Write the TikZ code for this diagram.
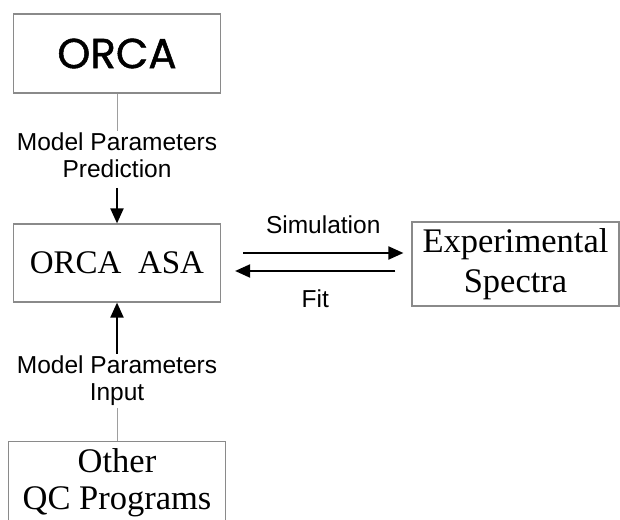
\documentclass[tikz,border=0pt]{standalone}
\usepackage{fontspec}
\setmainfont{Liberation Serif}
\setsansfont{Liberation Sans}
\newfontfamily\orcafont[FakeBold=1.2]{Poppins}
\usetikzlibrary{
  arrows.meta,
  positioning
}
\definecolor{asFrame}{HTML}{8A8A8A}
\definecolor{asLink}{HTML}{9E9E9E}
\tikzset{
  asnode/.style={
    draw=asFrame, line width=1.2pt, minimum width=207pt, align=center,
    inner sep=2pt, font=\fontsize{33}{40}\selectfont
  },
  orcabox/.style={asnode, minimum height=79pt, font=\orcafont\fontsize{42}{48}\selectfont},
  asabox/.style={asnode, minimum height=78pt},
  specbox/.style={asnode, minimum height=84pt, font=\fontsize{34.5}{40}\selectfont},
  qcbox/.style={asnode, minimum width=217pt, minimum height=83pt, font=\fontsize{34.5}{37}\selectfont},
  param/.style={font=\sffamily\fontsize{24.5}{27}\selectfont, align=center, inner sep=2pt},
  tag/.style={font=\sffamily\fontsize{24.5}{27}\selectfont, inner sep=2pt},
  feed/.style={draw=asLink, line width=1pt},
  flow/.style={-{Triangle[length=15pt,width=13pt]}, line width=2pt, black}
}

\begin{document}
\begin{tikzpicture}[x=1pt, y=1pt]
  \useasboundingbox (0,0) rectangle (620,519);
  % boxes
  \node[orcabox] (orca) at (117,465.5) {ORCA};
  \node[asabox] (asa) at (117,256) {ORCA\ \ ASA};
  \node[specbox] (spec) at (515.5,255) {Experimental\\Spectra};
  \node[qcbox, anchor=north] (qc) at (117,78) {Other\\QC Programs};
  % parameter labels
  \node[param, below=37pt of orca] (pred) {Model Parameters\\Prediction};
  \node[param, below=51pt of asa] (inp) {Model Parameters\\Input};
  \draw[feed] (orca) -- (pred);
  \draw[flow, shorten <=8pt] (pred) -- (asa);
  \draw[feed] (qc) -- (inp);
  \draw[flow] (inp) -- (asa);
  % simulation / fit loop
  \draw[flow] ([shift={(22pt,10pt)}]asa.east) -- node[tag, above=16pt] (sim) {Simulation} ([shift={(-8pt,11pt)}]spec.west);
  \draw[flow] ([shift={(-16pt,-7pt)}]spec.west) -- node[tag, below=16pt] (fit) {Fit} ([shift={(14pt,-8pt)}]asa.east);
\end{tikzpicture}
\end{document}
